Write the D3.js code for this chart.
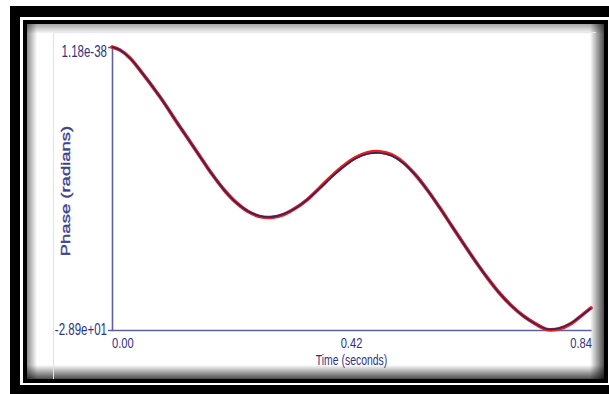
<!DOCTYPE html>
<html>
<head>
<meta charset="utf-8">
<script src="https://cdn.jsdelivr.net/npm/d3@7/dist/d3.min.js"></script>
<style>
  html, body { margin: 0; padding: 0; background: #fff; }
  svg { display: block; }
</style>
</head>
<body>
<svg id="chart" width="609" height="394"></svg>
<script>
// Phase response: time in seconds, phase in radians
const timeSeconds = [0.000, 0.014, 0.031, 0.049, 0.084, 0.119, 0.154, 0.175, 0.196, 0.217, 0.238, 0.259, 0.280, 0.301, 0.322, 0.343, 0.364, 0.385, 0.406, 0.427, 0.448, 0.469, 0.490, 0.511, 0.532, 0.553, 0.574, 0.595, 0.616, 0.637, 0.658, 0.679, 0.700, 0.721, 0.742, 0.763, 0.784, 0.805, 0.826, 0.840];
const measuredPhase = [0.00, -0.31, -1.10, -2.35, -5.08, -8.14, -11.15, -12.95, -14.55, -15.85, -16.78, -17.30, -17.40, -17.10, -16.45, -15.55, -14.40, -13.20, -12.15, -11.30, -10.80, -10.70, -11.00, -11.80, -13.05, -14.60, -16.35, -18.20, -20.05, -21.85, -23.55, -25.10, -26.40, -27.45, -28.25, -28.85, -28.78, -28.25, -27.30, -26.65];
const fittedPhase   = [0.00, -0.31, -1.10, -2.35, -5.08, -8.14, -11.15, -12.95, -14.55, -15.85, -16.75, -17.25, -17.35, -17.05, -16.45, -15.55, -14.45, -13.30, -12.25, -11.40, -10.92, -10.82, -11.10, -11.85, -13.05, -14.60, -16.35, -18.20, -20.05, -21.85, -23.55, -25.10, -26.40, -27.45, -28.25, -28.80, -28.72, -28.20, -27.30, -26.70];
const yTickValues = [1.18e-38, -28.9];
const yTickLabels = ["1.18e-38", "-2.89e+01"];
const xTickValues = [0.00, 0.42, 0.84];
const xTickLabels = ["0.00", "0.42", "0.84"];
const xTitle = "Time (seconds)";
const yTitle = "Phase (radians)";

const svg = d3.select("#chart");
const W = 609, H = 394;
const squeeze = 0.72;           // condensed lettering
const inkAxis = "#5c619e";
const inkText = "#2f3384";

// ---- picture frame ----
svg.append("rect").attr("x", 10).attr("y", 6).attr("width", W).attr("height", H).attr("fill", "#000");
svg.append("rect").attr("x", 20).attr("y", 17).attr("width", W).attr("height", 368).attr("fill", "#fff");
svg.append("rect").attr("x", 23).attr("y", 20).attr("width", 585).attr("height", 363).attr("fill", "#000");
svg.append("rect").attr("x", 27).attr("y", 24).attr("width", 577).attr("height", 355).attr("fill", "#fff");

const defs = svg.append("defs");
function shade(id, x1, y1, x2, y2, a) {
  const g = defs.append("linearGradient").attr("id", id)
    .attr("x1", x1).attr("y1", y1).attr("x2", x2).attr("y2", y2);
  g.append("stop").attr("offset", "0%").attr("stop-color", "#000").attr("stop-opacity", a);
  g.append("stop").attr("offset", "100%").attr("stop-color", "#000").attr("stop-opacity", 0);
}
shade("shTop", 0, 0, 0, 1, 0.35);
shade("shLeft", 0, 0, 1, 0, 0.45);
shade("shRight", 1, 0, 0, 0, 0.7);
shade("shBottom", 0, 1, 0, 0, 0.7);
svg.append("rect").attr("x", 27).attr("y", 24).attr("width", 577).attr("height", 10).attr("fill", "url(#shTop)");
svg.append("rect").attr("x", 27).attr("y", 24).attr("width", 10).attr("height", 355).attr("fill", "url(#shLeft)");
svg.append("rect").attr("x", 590).attr("y", 24).attr("width", 14).attr("height", 355).attr("fill", "url(#shRight)");
svg.append("rect").attr("x", 27).attr("y", 365).attr("width", 577).attr("height", 14).attr("fill", "url(#shBottom)");

// faint panel edges
svg.append("line").attr("x1", 53.5).attr("x2", 53.5).attr("y1", 32).attr("y2", 379)
  .attr("stroke", "#e2e2e8").attr("stroke-width", 1);
svg.append("line").attr("x1", 53).attr("x2", 596).attr("y1", 32.5).attr("y2", 32.5)
  .attr("stroke", "#e8e8ee").attr("stroke-width", 1);

// ---- scales ----
const x = d3.scaleLinear().domain([0, 0.84]).range([112, 591]);
const y = d3.scaleLinear().domain([-28.9, 1.18e-38]).range([330, 47]);

// ---- axes ----
const yAxis = svg.append("g").attr("transform", `translate(${x(0)},0)`)
  .call(d3.axisLeft(y).tickValues([]).tickSizeOuter(4));
yAxis.select(".domain").attr("stroke", inkAxis).attr("stroke-width", 1.6);

const xAxis = svg.append("g").attr("transform", `translate(0,${y(-28.9)})`)
  .call(d3.axisBottom(x).tickValues([]).tickSizeOuter(0));
xAxis.select(".domain").attr("stroke", inkAxis).attr("stroke-width", 1.6);

function label(tx, ty, txt, anchor, size, weight) {
  svg.append("text")
    .attr("transform", `translate(${tx},${ty}) scale(${squeeze},1)`)
    .attr("text-anchor", anchor)
    .attr("font-family", "'Liberation Sans', Arial, sans-serif")
    .attr("font-size", size)
    .attr("font-weight", weight || "normal")
    .attr("fill", inkText)
    .text(txt);
}

// y tick labels
yTickValues.forEach((v, i) => {
  label(x(0) - 5, y(v) + (i === 0 ? 10 : 5), yTickLabels[i], "end", 16);
});
// x tick labels
xTickValues.forEach((v, i) => {
  const anchor = i === 0 ? "start" : (i === xTickValues.length - 1 ? "end" : "middle");
  label(x(v) + (anchor === "end" ? 1 : 0), 348, xTickLabels[i], anchor, 15.5);
});

// axis titles
label((x(0) + x(0.84)) / 2, 365, xTitle, "middle", 14.5);
svg.append("text")
  .attr("transform", `translate(70,191) scale(${squeeze},1) rotate(-90)`)
  .attr("text-anchor", "middle")
  .attr("font-family", "'Liberation Sans', Arial, sans-serif")
  .attr("font-size", 18.5)
  .attr("fill", "#3d4290")
  .attr("stroke", "#3d4290")
  .attr("stroke-width", 0.5)
  .text(yTitle);

// ---- traces ----
const line = d3.line().curve(d3.curveCatmullRom.alpha(0.5));
const measuredPts = timeSeconds.map((t, i) => [x(t), y(measuredPhase[i])]);
const fittedPts = timeSeconds.map((t, i) => [x(t), y(fittedPhase[i])]);

svg.append("path").attr("d", line(measuredPts))
  .attr("fill", "none").attr("stroke", "#e8201c").attr("stroke-width", 3.6)
  .attr("stroke-linejoin", "round").attr("stroke-linecap", "round");
svg.append("path").attr("d", line(fittedPts))
  .attr("fill", "none").attr("stroke", "#2b2466").attr("stroke-width", 1.6)
  .attr("stroke-linejoin", "round");
</script>
</body>
</html>
